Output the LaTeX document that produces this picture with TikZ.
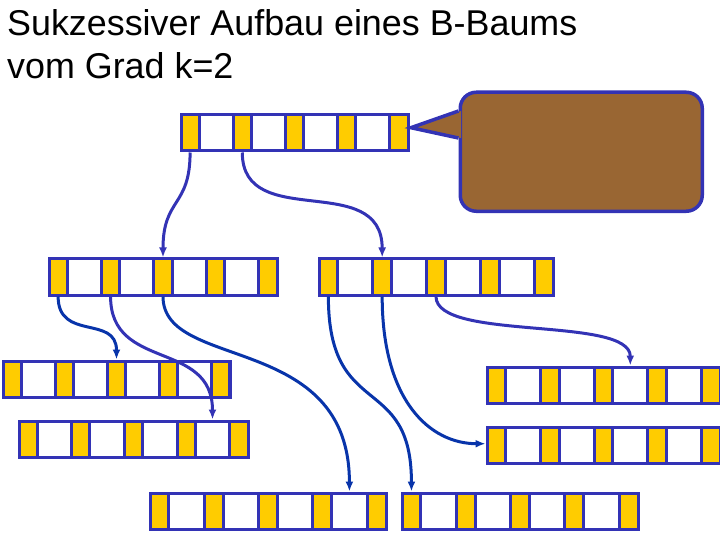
\documentclass[tikz,border=0pt]{standalone}
\usepackage{fontspec}
\setmainfont{Liberation Sans}
\usetikzlibrary{arrows.meta}
\definecolor{bblue}{RGB}{51,51,181}
\definecolor{dblue}{RGB}{8,52,170}
\definecolor{slotyellow}{RGB}{255,204,0}
\definecolor{notebrown}{RGB}{153,102,51}
\tikzset{
  cell/.style={draw=bblue,line width=3bp,minimum height=36bp,inner sep=0pt,anchor=north west},
  ptrcell/.style={cell,fill=slotyellow},
  keycell/.style={cell,fill=white},
  link/.style={line width=3bp,-{Latex[length=10bp,width=8bp]}},
  notebox/.style={draw=bblue,fill=notebrown,line width=3.5bp,rounded corners=16bp,inner sep=0pt,anchor=north west}
}
\newcommand{\bnode}[4]{%
  \foreach \i in {1,...,5}{
    \pgfmathsetmacro{\xs}{#2+(\i-1)*0.23*#4}
    \node[ptrcell,minimum width={0.08*#4*1bp}] (#1-p\i) at (\xs,#3) {};
  }
  \foreach \i in {1,...,4}{
    \pgfmathsetmacro{\xs}{#2+(0.08+(\i-1)*0.23)*#4}
    \node[keycell,minimum width={0.15*#4*1bp}] (#1-k\i) at (\xs,#3) {};
  }
  \node[inner sep=0pt,minimum width={#4*1bp},minimum height=36bp,anchor=north west] (#1) at (#2,#3) {};
}

\begin{document}
\begin{tikzpicture}[x=1bp,y=-1bp]
  \useasboundingbox (0,0) rectangle (720,540);
  \node[anchor=north west,inner sep=0pt,align=left,font=\fontsize{36}{43}\selectfont] (title) at (7,9)
    {Sukzessiver Aufbau eines B-Baums\\vom Grad k=2};

  \bnode{root}{179.5}{113.5}{227}
  \bnode{mid1}{47.5}{257.5}{228}
  \bnode{mid2}{317.5}{257.5}{234}
  \bnode{leaf1}{1.5}{359.5}{227}
  \bnode{leaf2}{17.5}{419.5}{229}
  \bnode{leaf3}{485.5}{365.5}{233}
  \bnode{leaf4}{485.5}{425.5}{233}
  \bnode{leaf5}{148.5}{491.5}{236}
  \bnode{leaf6}{400.5}{491.5}{236}

  \node[notebox,minimum width=242bp,minimum height=119bp] (note) at (458.5,90.5) {};
  \coordinate (tip) at ([xshift=4bp,yshift=4bp]root.east);
  \fill[notebrown] ([xshift=2.5bp,yshift=-20.5bp]note.north west) -- (tip)
    -- ([xshift=2.5bp,yshift=-47.5bp]note.north west) -- cycle;
  \draw[bblue,line width=3.5bp] ([yshift=-20.5bp]note.north west) -- (tip)
    -- ([yshift=-47.5bp]note.north west);

  \draw[link,bblue] (root-p1.south) .. controls +(0,55) and +(0,-60) .. (mid1-p3.north);
  \draw[link,bblue] (root-p2.south) .. controls +(0,80) and +(0,-88) .. (mid2-p2.north);
  \draw[link,dblue] (mid1-p1.south) .. controls +(0,45) and +(0,-45) .. (leaf1-p3.north);
  \draw[link,bblue] (mid1-p2.south) .. controls +(0,75) and +(0,-80) .. (leaf2-k4.north);
  \draw[link,dblue] (mid1-p3.south) .. controls +(0,75) and +(0,-160) .. (leaf5-k4.north);
  \draw[link,dblue] (mid2-p1.south) .. controls +(0,125) and +(0,-120) .. (leaf6-p1.north);
  \draw[link,dblue] (mid2-p2.south) .. controls +(0,105) and +(-55,0) .. (leaf4.west);
  \draw[link,bblue] (mid2-p3.south) .. controls +(0,45) and +(0,-50) .. (leaf3-k3.north);
\end{tikzpicture}
\end{document}
